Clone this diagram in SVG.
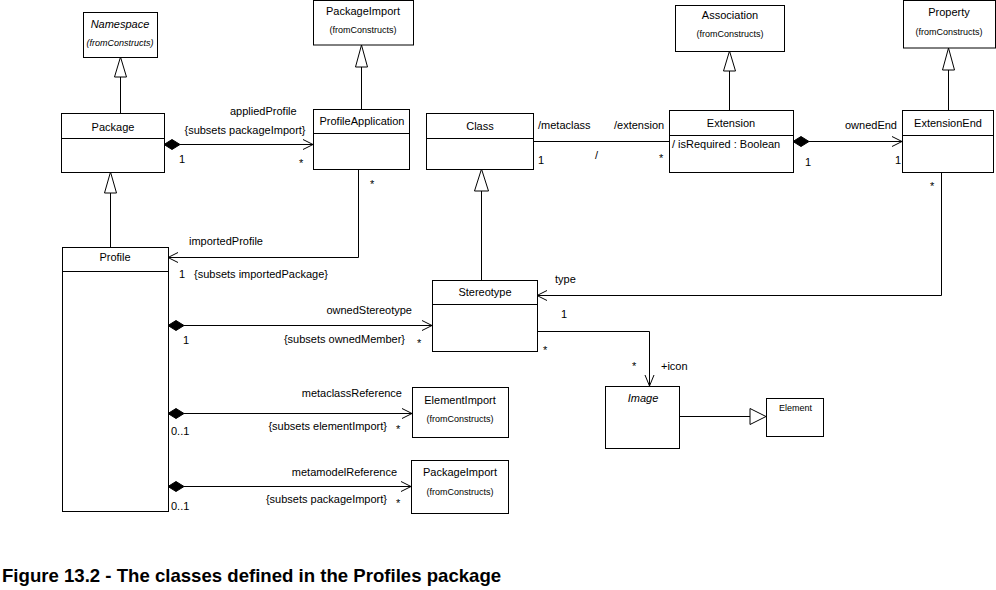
<svg xmlns="http://www.w3.org/2000/svg" width="996" height="590" viewBox="0 0 996 590">
<style>
  text { font-family: "Liberation Sans", Arial, sans-serif; font-size: 11px; fill: #000; }
  .c { text-anchor: middle; }
  .e { text-anchor: end; }
  .i { font-style: italic; }
  .fc { font-size: 9px; }
  .box { fill: #fff; stroke: #000; stroke-width: 1; }
  .ln { fill: none; stroke: #000; stroke-width: 1; }
  .gen { fill: #fff; stroke: #000; stroke-width: 1; }
  .dia { fill: #000; stroke: #000; stroke-width: 1; }
  .cap { font-size: 18.6px; font-weight: bold; }
</style>
<rect width="996" height="590" fill="#fff"/>

<g id="connectors">
  <!-- generalizations -->
  <line class="ln" x1="120.5" y1="113" x2="120.5" y2="77"/>
  <polygon class="gen" points="120.5,57 114.5,77 126.5,77"/>
  <line class="ln" x1="361.5" y1="109" x2="361.5" y2="67"/>
  <polygon class="gen" points="361.5,45 355.5,67 367.5,67"/>
  <line class="ln" x1="110.5" y1="247" x2="110.5" y2="193"/>
  <polygon class="gen" points="110.5,172 104.5,193 116.5,193"/>
  <line class="ln" x1="729.5" y1="110" x2="729.5" y2="71"/>
  <polygon class="gen" points="729.5,51 723.5,71 735.5,71"/>
  <line class="ln" x1="948.5" y1="110" x2="948.5" y2="70"/>
  <polygon class="gen" points="948.5,48 942.5,70 954.5,70"/>
  <line class="ln" x1="481.5" y1="280" x2="481.5" y2="191"/>
  <polygon class="gen" points="481.5,169 474.5,191 488.5,191"/>
  <line class="ln" x1="679" y1="416.5" x2="750" y2="416.5"/>
  <polygon class="gen" points="766,416.5 750,408.5 750,424.5"/>

  <!-- Package -> ProfileApplication -->
  <polygon class="dia" points="164,144.5 172,139.5 180,144.5 172,149.5"/>
  <line class="ln" x1="180" y1="144.5" x2="313" y2="144.5"/>
  <polyline class="ln" points="303,139.5 313,144.5 303,149.5"/>

  <!-- ProfileApplication -> Profile -->
  <polyline class="ln" points="358.5,169 358.5,257.5 168,257.5"/>
  <polyline class="ln" points="178,252.5 168,257.5 178,262.5"/>

  <!-- Class - Extension -->
  <line class="ln" x1="533" y1="141.5" x2="669" y2="141.5"/>

  <!-- Extension -> ExtensionEnd -->
  <polygon class="dia" points="793,141.5 801,136.5 809,141.5 801,146.5"/>
  <line class="ln" x1="809" y1="141.5" x2="902" y2="141.5"/>
  <polyline class="ln" points="892,136.5 902,141.5 892,146.5"/>

  <!-- ExtensionEnd -> Stereotype -->
  <polyline class="ln" points="941.5,172 941.5,295.5 537,295.5"/>
  <polyline class="ln" points="547,290.5 537,295.5 547,300.5"/>

  <!-- Profile -> Stereotype -->
  <polygon class="dia" points="168,325.5 176,320.5 184,325.5 176,330.5"/>
  <line class="ln" x1="184" y1="325.5" x2="432" y2="325.5"/>
  <polyline class="ln" points="422,320.5 432,325.5 422,330.5"/>

  <!-- Profile -> ElementImport -->
  <polygon class="dia" points="168,413.5 176,408.5 184,413.5 176,418.5"/>
  <line class="ln" x1="184" y1="413.5" x2="412" y2="413.5"/>
  <polyline class="ln" points="402,408.5 412,413.5 402,418.5"/>

  <!-- Profile -> PackageImport -->
  <polygon class="dia" points="168,486.5 176,481.5 184,486.5 176,491.5"/>
  <line class="ln" x1="184" y1="486.5" x2="411" y2="486.5"/>
  <polyline class="ln" points="401,481.5 411,486.5 401,491.5"/>

  <!-- Stereotype -> Image -->
  <polyline class="ln" points="537,331.5 649.5,331.5 649.5,386"/>
  <polyline class="ln" points="645,375 649.5,386 654,375"/>

  <!-- labels -->
  <text x="230" y="115">appliedProfile</text>
  <text x="245" y="134" class="c">{subsets packageImport}</text>
  <text x="179" y="163">1</text>
  <text x="299" y="167">*</text>
  <text x="370" y="188">*</text>
  <text x="189" y="245">importedProfile</text>
  <text x="179" y="278">1</text>
  <text x="194" y="278">{subsets importedPackage}</text>
  <text x="538" y="129">/metaclass</text>
  <text x="614" y="129">/extension</text>
  <text x="538" y="164">1</text>
  <text x="595" y="159">/</text>
  <text x="659" y="162">*</text>
  <text x="897" y="129" class="e">ownedEnd</text>
  <text x="805" y="166">1</text>
  <text x="895" y="164">1</text>
  <text x="930" y="190">*</text>
  <text x="555" y="283">type</text>
  <text x="561" y="318">1</text>
  <text x="543" y="354">*</text>
  <text x="632" y="370">*</text>
  <text x="661" y="370">+icon</text>
  <text x="412" y="314" class="e">ownedStereotype</text>
  <text x="183" y="344">1</text>
  <text x="405" y="343" class="e">{subsets ownedMember}</text>
  <text x="417" y="347">*</text>
  <text x="402" y="397" class="e">metaclassReference</text>
  <text x="171" y="435">0..1</text>
  <text x="387" y="430" class="e">{subsets elementImport}</text>
  <text x="396" y="433">*</text>
  <text x="397" y="476" class="e">metamodelReference</text>
  <text x="171" y="510">0..1</text>
  <text x="387" y="503" class="e">{subsets packageImport}</text>
  <text x="396" y="507">*</text>
</g>

<g id="Namespace">
  <rect class="box" x="83.5" y="12.5" width="74" height="45"/>
  <text x="120" y="28" class="c i">Namespace</text>
  <text x="120" y="46" class="c i fc">(fromConstructs)</text>
</g>
<g id="PackageImportTop">
  <rect class="box" x="313.5" y="0.5" width="100" height="44.5"/>
  <text x="363" y="15" class="c">PackageImport</text>
  <text x="363" y="33" class="c fc">(fromConstructs)</text>
</g>
<g id="Package">
  <rect class="box" x="61.5" y="113.5" width="103" height="59"/>
  <line class="ln" x1="61.5" y1="138.5" x2="164.5" y2="138.5"/>
  <text x="113" y="131" class="c">Package</text>
</g>
<g id="ProfileApplication">
  <rect class="box" x="313.5" y="109.5" width="96" height="60"/>
  <line class="ln" x1="313.5" y1="133.5" x2="409.5" y2="133.5"/>
  <text x="362" y="125" class="c">ProfileApplication</text>
</g>
<g id="Profile">
  <rect class="box" x="62.5" y="247.5" width="106" height="264"/>
  <line class="ln" x1="62.5" y1="271.5" x2="168.5" y2="271.5"/>
  <text x="115" y="261" class="c">Profile</text>
</g>
<g id="Class">
  <rect class="box" x="426.5" y="113.5" width="107" height="56"/>
  <line class="ln" x1="426.5" y1="138.5" x2="533.5" y2="138.5"/>
  <text x="480" y="130" class="c">Class</text>
</g>
<g id="Association">
  <rect class="box" x="675.5" y="5.5" width="109" height="46"/>
  <text x="730" y="19" class="c">Association</text>
  <text x="730" y="37" class="c fc">(fromConstructs)</text>
</g>
<g id="Extension">
  <rect class="box" x="669.5" y="110.5" width="124" height="62"/>
  <line class="ln" x1="669.5" y1="135.5" x2="793.5" y2="135.5"/>
  <text x="731" y="127" class="c">Extension</text>
  <text x="672" y="148">/ isRequired : Boolean</text>
</g>
<g id="Property">
  <rect class="box" x="903.5" y="0.5" width="92" height="47.5"/>
  <text x="949" y="16" class="c">Property</text>
  <text x="949" y="35" class="c fc">(fromConstructs)</text>
</g>
<g id="ExtensionEnd">
  <rect class="box" x="902.5" y="110.5" width="91" height="62"/>
  <line class="ln" x1="902.5" y1="135.5" x2="993.5" y2="135.5"/>
  <text x="948" y="127" class="c">ExtensionEnd</text>
</g>
<g id="Stereotype">
  <rect class="box" x="432.5" y="280.5" width="105" height="71"/>
  <line class="ln" x1="432.5" y1="304.5" x2="537.5" y2="304.5"/>
  <text x="485" y="296" class="c">Stereotype</text>
</g>
<g id="Image">
  <rect class="box" x="605.5" y="386.5" width="74" height="62"/>
  <text x="643" y="402" class="c i">Image</text>
</g>
<g id="Element">
  <rect class="box" x="766.5" y="398.5" width="57" height="38"/>
  <text x="795.5" y="411" class="c fc">Element</text>
</g>
<g id="ElementImport">
  <rect class="box" x="412.5" y="387.5" width="96" height="50"/>
  <text x="460" y="404" class="c">ElementImport</text>
  <text x="460" y="422" class="c fc">(fromConstructs)</text>
</g>
<g id="PackageImportBottom">
  <rect class="box" x="411.5" y="460.5" width="97" height="53"/>
  <text x="460" y="476" class="c">PackageImport</text>
  <text x="460" y="495" class="c fc">(fromConstructs)</text>
</g>

<text x="2" y="582" class="cap">Figure 13.2 - The classes defined in the Profiles package</text>
</svg>
